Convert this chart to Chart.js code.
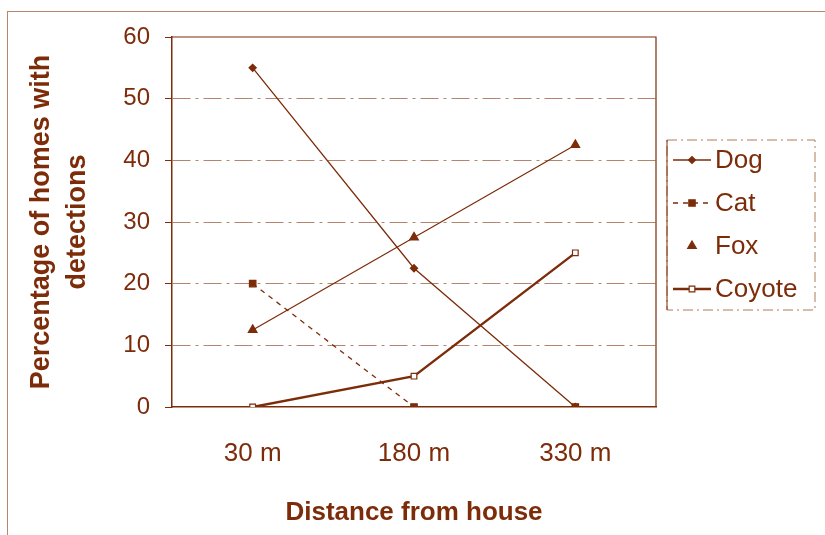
<!DOCTYPE html>
<html>
<head>
<meta charset="utf-8">
<script src="https://cdn.jsdelivr.net/npm/chart.js@4/dist/chart.umd.min.js"></script>
<style>
  html, body { margin: 0; padding: 0; background: #fff; }
  #wrap { position: relative; width: 825px; height: 535px; overflow: hidden; }
  #frame { position: absolute; left: 7px; top: 11px; width: 830px; height: 540px;
           border-left: 1.5px solid #b8866a; border-top: 1.5px solid #b8866a; }
  canvas { position: absolute; left: 0; top: 0; }
</style>
</head>
<body>
<div id="wrap">
  <div id="frame"></div>
  <canvas id="chart" width="825" height="535"></canvas>
</div>
<script>
// data
const distances = ['30 m', '180 m', '330 m'];
const dog = [55, 22.5, 0];
const cat = [20, 0, 0];
const fox = [12.5, 27.5, 42.5];
const coyote = [0, 5, 25];
const yTicks = [0, 10, 20, 30, 40, 50, 60];

const brown = '#7d2c0a';
const font = 'Liberation Sans, Arial, sans-serif';

// plot frame (top/right) + legend box on the right
const framePlugin = {
  id: 'frame',
  afterDraw(chart) {
    const { ctx, chartArea: a } = chart;
    ctx.save();
    ctx.strokeStyle = brown;
    ctx.lineWidth = 1.2;
    ctx.beginPath();
    ctx.moveTo(a.left, a.top);
    ctx.lineTo(a.right, a.top);
    ctx.lineTo(a.right, a.bottom);
    ctx.stroke();

    // legend
    const lx = 667, ly = 140, lw = 148, lh = 170;
    ctx.strokeStyle = '#b07a5a';
    ctx.lineWidth = 1;
    ctx.setLineDash([10, 4, 2, 4]);
    ctx.strokeRect(lx, ly, lw, lh);
    ctx.setLineDash([]);
    ctx.strokeStyle = brown;
    ctx.beginPath();
    ctx.moveTo(lx, ly); ctx.lineTo(lx, ly + lh);
    ctx.stroke();

    chart.data.datasets.forEach((ds, i) => {
      const y = 160 + i * 43;
      ctx.strokeStyle = brown;
      ctx.lineWidth = ds.borderWidth;
      ctx.setLineDash(ds.borderDash || []);
      if (ds.legendLine !== false) {
        ctx.beginPath();
        ctx.moveTo(673, y); ctx.lineTo(711, y);
        ctx.stroke();
      }
      ctx.setLineDash([]);
      ctx.fillStyle = ds.pointBackgroundColor;
      ctx.strokeStyle = brown;
      ctx.lineWidth = 1.2;
      Chart.helpers.drawPoint(ctx, {
        pointStyle: ds.pointStyle, radius: ds.pointRadius, borderWidth: 1.2
      }, 692, y);
      ctx.fillStyle = brown;
      ctx.font = '26px ' + font;
      ctx.textBaseline = 'middle';
      ctx.fillText(ds.label, 715, y + 1);
    });
    ctx.restore();
  }
};

new Chart(document.getElementById('chart'), {
  type: 'line',
  data: {
    labels: distances,
    datasets: [
      {
        label: 'Dog', data: dog,
        borderColor: brown, borderWidth: 1.3,
        pointStyle: 'rectRot', pointRadius: 3.5,
        pointBackgroundColor: brown, pointBorderColor: brown
      },
      {
        label: 'Cat', data: cat,
        borderColor: brown, borderWidth: 1.3, borderDash: [5, 5],
        pointStyle: 'rect', pointRadius: 4.5,
        pointBackgroundColor: brown, pointBorderColor: brown
      },
      {
        label: 'Fox', data: fox,
        borderColor: brown, borderWidth: 1.2, legendLine: false,
        pointStyle: 'triangle', pointRadius: 5,
        pointBackgroundColor: brown, pointBorderColor: brown
      },
      {
        label: 'Coyote', data: coyote,
        borderColor: brown, borderWidth: 2.4,
        pointStyle: 'rect', pointRadius: 4,
        pointBackgroundColor: '#ffffff', pointBorderColor: brown, pointBorderWidth: 1.2
      }
    ]
  },
  options: {
    responsive: false,
    animation: false,
    layout: { padding: { top: 37, right: 169, left: 24, bottom: 3 } },
    plugins: { legend: { display: false }, tooltip: { enabled: false } },
    scales: {
      x: {
        offset: true,
        grid: { display: false },
        border: { color: brown, width: 1.5 },
        ticks: { color: brown, font: { family: font, size: 26 }, padding: 23 },
        title: {
          display: true, text: 'Distance from house', color: brown,
          font: { family: font, size: 26, weight: 'bold' }, padding: { top: 0, bottom: 4 }
        },
        afterFit(s) { s.height = 125; }
      },
      y: {
        min: 0, max: 60,
        afterBuildTicks(s) { s.ticks = yTicks.map(v => ({ value: v })); },
        grid: {
          color: ctx => (ctx.tick.value === 0 || ctx.tick.value === 60) ? 'rgba(0,0,0,0)' : 'rgba(150,80,50,0.7)',
          tickColor: brown, tickLength: 7, drawTicks: true
        },
        border: { color: brown, width: 1.5, dash: [18, 5, 3, 5] },
        ticks: { color: brown, font: { family: font, size: 24 }, padding: 15 },
        title: {
          display: true, text: ['Percentage of homes with', 'detections'], color: brown,
          font: { family: font, size: 27, weight: 'bold', lineHeight: 1.333 }, padding: 0
        },
        afterFit(s) { s.width = 148; }
      }
    }
  },
  plugins: [framePlugin]
});
</script>
</body>
</html>
